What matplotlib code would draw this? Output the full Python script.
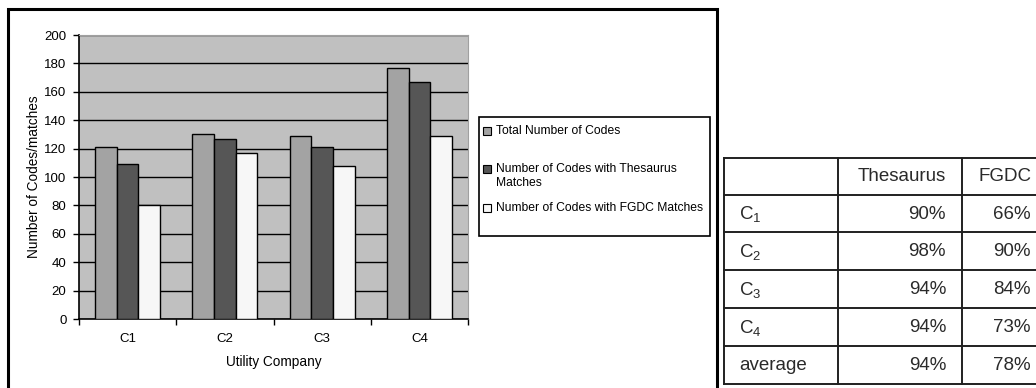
import numpy as np
import matplotlib.pyplot as plt
from matplotlib.patches import Rectangle
from matplotlib.lines import Line2D

plt.rcParams['font.family'] = ['Liberation Sans', 'DejaVu Sans']
plt.rcParams['mathtext.fontset'] = 'custom'
plt.rcParams['mathtext.rm'] = 'Liberation Sans'
plt.rcParams['mathtext.it'] = 'Liberation Sans'

# datos del grafico de barras
companies = ['C1', 'C2', 'C3', 'C4']
total_codes = [121, 130, 129, 177]
thesaurus_matches = [109, 127, 121, 167]
fgdc_matches = [80, 117, 108, 129]

series_labels = ['Total Number of Codes',
                 'Number of Codes with Thesaurus\nMatches',
                 'Number of Codes with FGDC Matches']
series_colors = ['#a3a3a3', '#565656', '#f7f7f7']

# datos de la tabla de porcentajes
table_header = ['', 'Thesaurus', 'FGDC']
row_names = ['C$_1$', 'C$_2$', 'C$_3$', 'C$_4$', 'average']
thesaurus_pct = ['90%', '98%', '94%', '94%', '94%']
fgdc_pct = ['66%', '90%', '84%', '73%', '78%']

W, H = 1036, 388
fig = plt.figure(figsize=(W / 100, H / 100), dpi=100)


def fx(px):
    return px / W


def fy(py):
    return 1 - py / H


# marco exterior del grafico
fig.patches.append(Rectangle((fx(8), fy(400)), fx(717) - fx(8), fy(9) - fy(400),
                             transform=fig.transFigure, fill=False,
                             edgecolor='black', linewidth=2.2, clip_on=False))

ax = fig.add_axes([fx(79), fy(319), fx(468) - fx(79), fy(35) - fy(319)])
ax.set_facecolor('#c0c0c0')

x = np.arange(len(companies))
w = 0.2222
for k, vals in enumerate([total_codes, thesaurus_matches, fgdc_matches]):
    ax.bar(x + (k - 1) * w, vals, w, color=series_colors[k],
           edgecolor='black', linewidth=1.0, zorder=3)

ax.set_xlim(-0.5, 3.5)
ax.set_ylim(0, 200)
ax.set_yticks(np.arange(0, 201, 20))
ax.yaxis.grid(True, color='black', linewidth=1.0, zorder=1)
ax.set_axisbelow(True)

ax.set_xticks(np.arange(-0.5, 3.6, 1))
ax.set_xticklabels([])
ax.set_xticks(x, minor=True)
ax.set_xticklabels(companies, minor=True)
ax.tick_params(axis='x', which='major', length=4, width=1, direction='out')
ax.tick_params(axis='x', which='minor', length=0, pad=10, labelsize=9.5)
ax.tick_params(axis='y', length=4, width=1, direction='out', pad=5, labelsize=9.5)

for s in ['top', 'right']:
    ax.spines[s].set_color('#a0a0a0')
    ax.spines[s].set_linewidth(0.8)
for s in ['left', 'bottom']:
    ax.spines[s].set_color('black')
    ax.spines[s].set_linewidth(1.2)

ax.set_ylabel('Number of Codes/matches', fontsize=9.8, labelpad=2)
ax.set_xlabel('Utility Company', fontsize=9.8, labelpad=7)

# leyenda dibujada a mano
fig.patches.append(Rectangle((fx(479), fy(236)), fx(710) - fx(479), fy(117) - fy(236),
                             transform=fig.transFigure, facecolor='white',
                             edgecolor='black', linewidth=1.2))
leg_y = [131, 169, 208]
for k in range(3):
    fig.patches.append(Rectangle((fx(483), fy(leg_y[k] + 4)), fx(8), 8 / H,
                                 transform=fig.transFigure,
                                 facecolor=series_colors[k], edgecolor='black',
                                 linewidth=0.8))
    fig.text(fx(496), fy(leg_y[k] - 6.5), series_labels[k], fontsize=8.7,
             va='top', ha='left', linespacing=1.25)

# tabla de porcentajes
col_x = [724, 838, 962, 1060]
row_y = [158, 195, 232, 270, 308, 346, 384]
for yy in row_y:
    fig.add_artist(Line2D([fx(724), fx(1060)], [fy(yy), fy(yy)],
                          color='#202020', linewidth=1.4))
for xx in col_x:
    fig.add_artist(Line2D([fx(xx), fx(xx)], [fy(158), fy(384)],
                          color='#202020', linewidth=1.4))

cell_font = 13.5
fig.text(fx(946), fy(177), table_header[1], fontsize=cell_font,
         ha='right', va='center', color='#2a2a2a')
fig.text(fx(1031), fy(177), table_header[2], fontsize=cell_font,
         ha='right', va='center', color='#2a2a2a')
for i in range(len(row_names)):
    yc = (row_y[i + 1] + row_y[i + 2]) / 2 + 1
    fig.text(fx(739), fy(yc), row_names[i], fontsize=cell_font,
             ha='left', va='center', color='#2a2a2a')
    fig.text(fx(946), fy(yc), thesaurus_pct[i], fontsize=cell_font,
             ha='right', va='center', color='#2a2a2a')
    fig.text(fx(1031), fy(yc), fgdc_pct[i], fontsize=cell_font,
             ha='right', va='center', color='#2a2a2a')

fig.savefig('out.png', dpi=100)
